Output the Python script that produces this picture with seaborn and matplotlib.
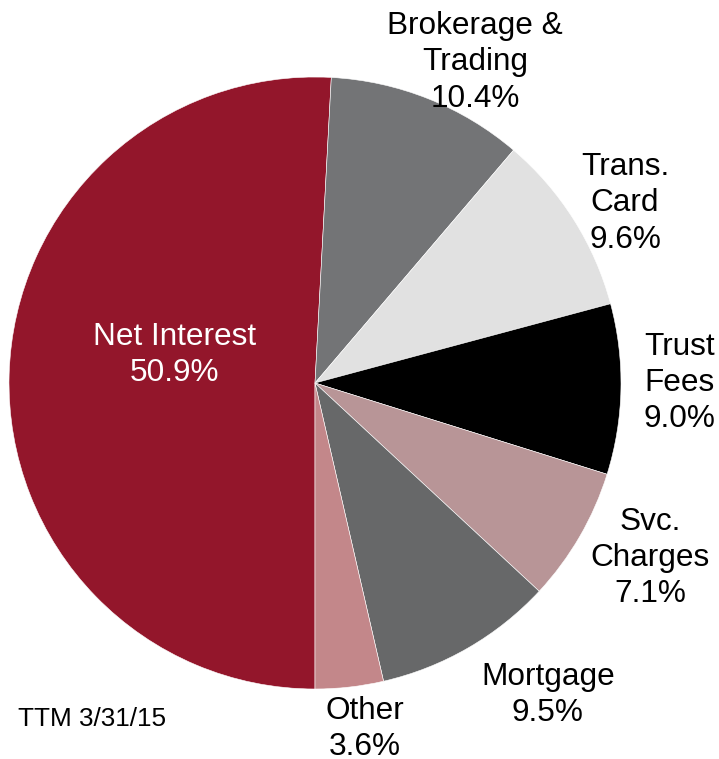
import seaborn as sns
import matplotlib.pyplot as plt

CATEGORIES = ["Net Interest", "Brokerage &\nTrading", "Trans.\nCard", "Trust\nFees",
              "Svc.\nCharges", "Mortgage", "Other"]
SHARES = [50.9, 10.4, 9.6, 9.0, 7.1, 9.5, 3.6]
COLORS = ["#93162B", "#737476", "#E1E1E1", "#000000", "#B89597", "#676869", "#C3878A"]
FOOTNOTE = "TTM 3/31/15"

# label anchor points (data units, pie radius = 1)
LABEL_POS = [(-0.458, 0.091), (0.523, 1.048), (1.013, 0.588), (1.190, 0.000),
             (1.095, -0.572), (0.761, -1.020), (0.163, -1.130)]


def main():
    sns.set_theme(style="white")
    plt.rcParams["font.family"] = ["Liberation Sans", "DejaVu Sans"]

    fig = plt.figure(figsize=(7.19, 7.59), dpi=100)
    ax = fig.add_axes([0, 0, 1, 1])
    ax.pie(SHARES, colors=COLORS, startangle=-90, counterclock=False,
           wedgeprops=dict(edgecolor="white", linewidth=0.4))

    for name, share, (x, y), i in zip(CATEGORIES, SHARES, LABEL_POS, range(len(SHARES))):
        color = "white" if i == 0 else "black"
        ax.text(x, y, f"{name}\n{share:.1f}%", ha="center", va="center",
                fontsize=22.7, color=color, linespacing=1.28)

    ax.text(-0.971, -1.098, FOOTNOTE, ha="left", va="center", fontsize=18.8, color="black")

    ax.set_xlim(-315 / 306, (719 - 315) / 306)
    ax.set_ylim(-(759 - 383) / 306, 383 / 306)
    ax.set_aspect("equal", adjustable="box")
    ax.axis("off")
    fig.savefig("out.png", dpi=100)
    plt.close(fig)


if __name__ == "__main__":
    main()
